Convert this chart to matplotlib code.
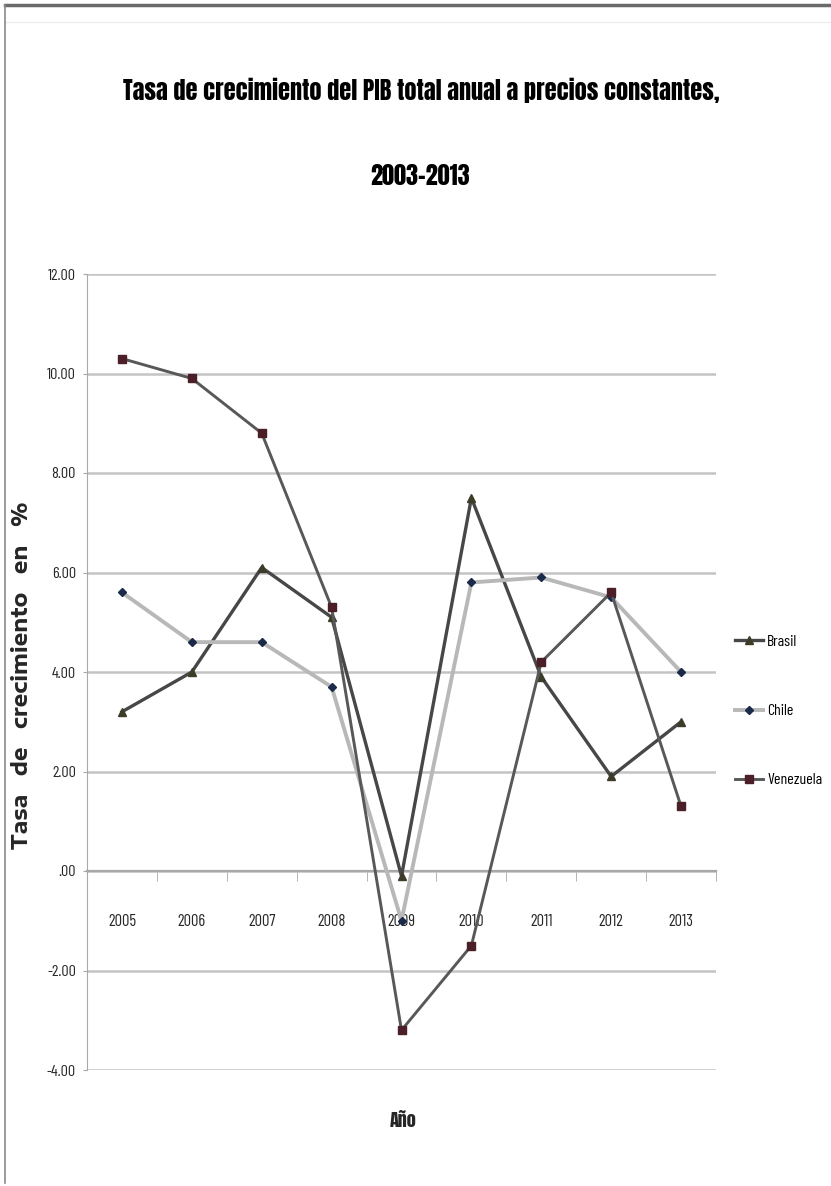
import matplotlib
matplotlib.use('Agg')
import matplotlib.pyplot as plt
from matplotlib.lines import Line2D

# data
years = ['2005', '2006', '2007', '2008', '2009', '2010', '2011', '2012', '2013']
brasil = [3.2, 4.0, 6.1, 5.1, -0.1, 7.5, 3.9, 1.9, 3.0]
chile = [5.6, 4.6, 4.6, 3.7, -1.0, 5.8, 5.9, 5.5, 4.0]
venezuela = [10.3, 9.9, 8.8, 5.3, -3.2, -1.5, 4.2, 5.6, 1.3]
yticks = [12, 10, 8, 6, 4, 2, 0, -2, -4]
ytick_labels = ['12.00', '10.00', '8.00', '6.00', '4.00', '2.00', '.00', '-2.00', '-4.00']

narrow = ['Barlow Condensed', 'DejaVu Sans']
tall = ['Anton', 'Barlow Condensed', 'DejaVu Sans']
wide = ['Encode Sans Expanded', 'DejaVu Sans']
plt.rcParams['font.family'] = narrow

W, H = 831, 1186
fig = plt.figure(figsize=(W / 100, H / 100), dpi=100)
renderer = fig.canvas.get_renderer()


def size_for(s, target_px, weight='normal', family=narrow):
    # font size that makes string s about target_px wide
    t = fig.text(0, 0, s, fontsize=10, family=family, fontweight=weight)
    w = t.get_window_extent(renderer).width
    t.remove()
    return 10 * target_px / w


fs_title = size_for('Tasa de crecimiento del PIB total anual a precios constantes,', 594, 'bold', tall)
fs_tick = size_for('2005', 28)
fs_ytick = size_for('6.00', 24)
fs_leg = size_for('Venezuela', 55)
fs_xlab = size_for('Año', 27, 'bold', tall)
ylab_text = 'Tasa   de   crecimiento   en   %'
fs_ylab = min(15.5, size_for(ylab_text, 530, 'bold', wide))

ax = fig.add_axes([87 / W, 1 - 1070 / H, (716 - 87) / W, (1070 - 274) / H])

x = list(range(len(years)))
ax.plot(x, brasil, color='#474747', lw=2.4, marker='^', ms=6,
        mfc='#3c3c28', mec='#3c3c28', label='Brasil', zorder=3)
ax.plot(x, chile, color='#b8b8b8', lw=2.8, marker='D', ms=4,
        mfc='#1c2a4a', mec='#1c2a4a', label='Chile', zorder=3)
ax.plot(x, venezuela, color='#585858', lw=2.1, marker='s', ms=6,
        mfc='#4b1e28', mec='#4b1e28', label='Venezuela', zorder=4)

ax.set_xlim(-0.5, len(years) - 0.5)
ax.set_ylim(-4, 12)
ax.set_yticks(yticks)
ax.set_yticklabels(ytick_labels, fontsize=fs_ytick, color='#262626')
ax.yaxis.grid(True, color='#c4c4c4', lw=1.8)
ax.set_axisbelow(True)

# category axis sits at zero, ticks between categories
ax.spines['bottom'].set_position(('data', 0))
ax.spines['bottom'].set_color('#a8a8a8')
ax.spines['bottom'].set_linewidth(1.6)
ax.spines['left'].set_color('#a8a8a8')
ax.spines['top'].set_visible(False)
ax.spines['right'].set_visible(False)
ax.set_xticks(x)
ax.set_xticklabels(years, fontsize=fs_tick, color='#262626')
ax.set_xticks([i - 0.5 for i in range(len(years) + 1)], minor=True)
tick_px = fs_tick * 100 / 72
ax.tick_params(axis='x', which='major', length=0,
               pad=(925 - 872 - 0.6 * tick_px) * 0.72)
ax.tick_params(axis='x', which='minor', length=7, color='#a8a8a8', direction='out')
ax.tick_params(axis='y', length=3, color='#a8a8a8', pad=5)

ax.set_ylabel(ylab_text, family=wide, fontweight='bold', fontsize=fs_ylab, color='#262626')
ax.yaxis.set_label_coords(-0.086, 0.496)
ax.set_xlabel('Año', family=tall, fontweight='bold', fontsize=fs_xlab, color='#262626')
ax.xaxis.set_label_coords(0.502, -0.053)

fig.text(421 / W, 1 - 90 / H,
         'Tasa de crecimiento del PIB total anual a precios constantes,',
         ha='center', va='center', family=tall, fontsize=fs_title, fontweight='bold')
fig.text(420 / W, 1 - 176 / H, '2003-2013',
         ha='center', va='center', family=tall, fontsize=fs_title, fontweight='bold')

leg_px = fs_leg * 100 / 72
ax.legend(loc='center left', bbox_to_anchor=(735 / W, 1 - 711 / H),
          bbox_transform=fig.transFigure, frameon=False, fontsize=fs_leg,
          handlelength=28 / leg_px, handletextpad=4 / leg_px,
          labelspacing=(74 - 1.2 * leg_px) / leg_px,
          borderpad=0, borderaxespad=0)

# frame lines around the picture
fig.add_artist(Line2D([5 / W, 1], [1 - 5 / H, 1 - 5 / H], color='#6a6a6a', lw=2.5))
fig.add_artist(Line2D([5 / W, 1], [1 - 22 / H, 1 - 22 / H], color='#eeeeee', lw=1))
fig.add_artist(Line2D([5 / W, 5 / W], [1 - 5 / H, 1 - 1183 / H], color='#8a8a8a', lw=1.2))

fig.savefig('out.png', dpi=100)
